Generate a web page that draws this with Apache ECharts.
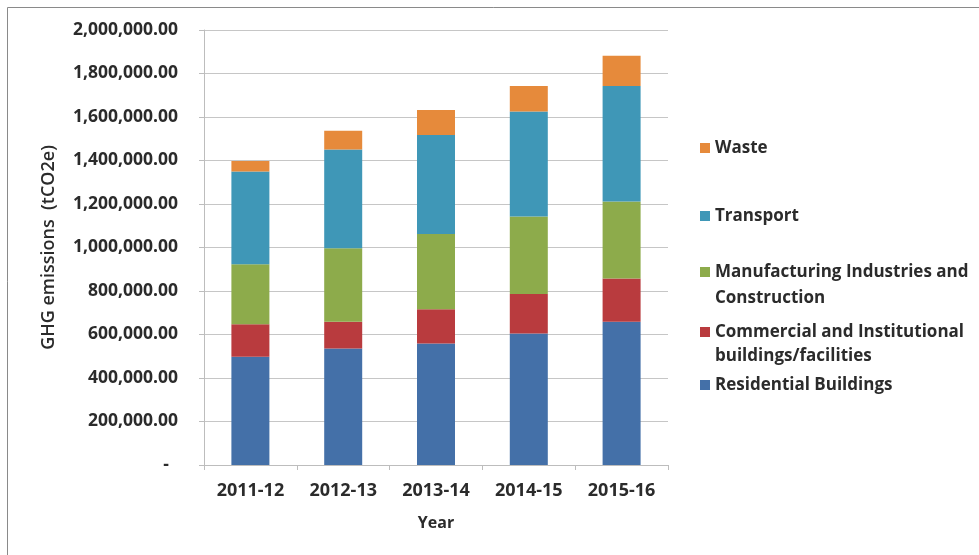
<!DOCTYPE html>
<html>
<head>
<meta charset="utf-8">
<title>GHG emissions by sector</title>
<script src="https://cdn.jsdelivr.net/npm/echarts@6/dist/echarts.min.js"></script>
<style>
  html, body { margin: 0; padding: 0; background: #ffffff; }
  #chart { width: 979px; height: 555px; }
</style>
</head>
<body>
<div id="chart"></div>
<script>
// Financial years on the category axis
const years = ['2011-12', '2012-13', '2013-14', '2014-15', '2015-16'];

// Emissions per sector, tCO2e
const residential = [498000, 536000, 559000, 605000, 659000];
const commercial = [149000, 123000, 157000, 181000, 199000];
const manufacturing = [276000, 337000, 346000, 356000, 353000];
const transport = [426000, 455000, 455000, 483000, 532000];
const waste = [49000, 86000, 115000, 118000, 139000];

// Value axis range
const yMin = 0;
const yMax = 2000000;
const yStep = 200000;

const FONT = '"Open Sans", Lato, "Noto Sans", sans-serif';
const TEXT = '#2b2b2b';

function fmtValue(v) {
  if (v === 0) return '-  ';
  const parts = v.toFixed(2).split('.');
  return parts[0].replace(/\B(?=(\d{3})+(?!\d))/g, ',') + '.' + parts[1];
}

const seriesDefs = [
  { name: 'Residential Buildings', data: residential, color: '#4470a8' },
  { name: 'Commercial and Institutional buildings/facilities', data: commercial, color: '#b93b3e' },
  { name: 'Manufacturing Industries and Construction', data: manufacturing, color: '#8dab4b' },
  { name: 'Transport', data: transport, color: '#3f97b7' },
  { name: 'Waste', data: waste, color: '#e68a3b' }
];

// legend entries: [series name, displayed text, top, lineHeight]
// two-line entries start with a blank line so the swatch sits beside the first line
const legendRows = [
  ['Waste', 'Waste', 138, 20],
  ['Transport', 'Transport', 206, 20],
  ['Manufacturing Industries and Construction', '\nManufacturing Industries and\nConstruction', 233, 26],
  ['Commercial and Institutional buildings/facilities', '\nCommercial and Institutional\nbuildings/facilities', 296, 24],
  ['Residential Buildings', 'Residential Buildings', 375, 20]
];

const chart = echarts.init(document.getElementById('chart'), null, { renderer: 'canvas' });

const option = {
  backgroundColor: '#ffffff',
  animation: false,
  textStyle: { fontFamily: FONT },
  graphic: [
    {
      type: 'rect',
      shape: { x: 7.5, y: 7.5, width: 1000, height: 600 },
      style: { fill: 'none', stroke: '#8a8a8a', lineWidth: 1 },
      silent: true,
      z: 100
    }
  ],
  grid: { left: 204, right: 311, top: 30, bottom: 90, containLabel: false },
  legend: legendRows.map(function (r) {
    return {
      data: [r[0]],
      left: 700,
      top: r[2],
      orient: 'vertical',
      padding: 0,
      itemGap: 0,
      itemWidth: 10,
      itemHeight: 10,
      icon: 'rect',
      selectedMode: false,
      formatter: function () { return r[1]; },
      textStyle: {
        fontFamily: FONT,
        fontSize: 17,
        fontWeight: 'bold',
        color: TEXT,
        lineHeight: r[3]
      }
    };
  }),
  xAxis: {
    type: 'category',
    data: years,
    name: 'Year',
    nameLocation: 'middle',
    nameGap: 50,
    nameTextStyle: { fontFamily: FONT, fontSize: 16, fontWeight: 'bold', color: TEXT },
    axisLine: { show: true, lineStyle: { color: '#bdbdbd', width: 1 } },
    axisTick: { show: true, length: 5, lineStyle: { color: '#bdbdbd' } },
    axisLabel: { margin: 17, fontFamily: FONT, fontSize: 18, fontWeight: 'bold', color: TEXT },
    splitLine: { show: false }
  },
  yAxis: {
    type: 'value',
    min: yMin,
    max: yMax,
    interval: yStep,
    name: 'GHG emissions  (tCO2e)',
    nameLocation: 'middle',
    nameGap: 146,
    nameRotate: 90,
    nameTextStyle: { fontFamily: FONT, fontSize: 18, fontWeight: 600, color: TEXT },
    axisLine: { show: true, lineStyle: { color: '#bdbdbd', width: 1 } },
    axisTick: { show: true, length: 5, lineStyle: { color: '#bdbdbd' } },
    axisLabel: { margin: 26, formatter: fmtValue, fontFamily: FONT, fontSize: 17.5, fontWeight: 'bold', color: TEXT },
    splitLine: { show: true, lineStyle: { color: '#c6c6c6', width: 1 } }
  },
  series: seriesDefs.map(function (s) {
    return {
      name: s.name,
      type: 'bar',
      stack: 'total',
      barWidth: 38,
      data: s.data,
      itemStyle: { color: s.color },
      emphasis: { disabled: true }
    };
  })
};

chart.setOption(option);
</script>
</body>
</html>
